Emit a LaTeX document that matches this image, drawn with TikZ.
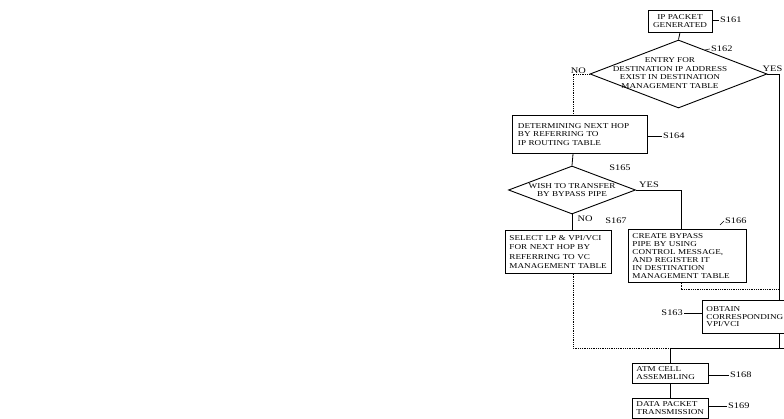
\documentclass[tikz,border=0pt]{standalone}
\usepackage{fontspec}
\setmainfont{Liberation Serif}
\newfontfamily\scanfont[FakeStretch=1.22]{Liberation Serif}
\usetikzlibrary{shapes.geometric,calc}
\begin{document}
\begin{tikzpicture}[x=1pt,y=-1pt,
  every node/.style={font=\scanfont\fontsize{7.5}{8.4}\selectfont},
  box/.style={draw, line width=0.9pt, inner ysep=1.5pt, inner xsep=4pt, anchor=north west, align=left},
  dia/.style={draw, diamond, line width=0.9pt, inner sep=0pt},
  txt/.style={align=center, inner sep=0pt},
  lab/.style={inner sep=1pt, font=\scanfont\fontsize{8.5}{9}\selectfont},
  conn/.style={line width=0.8pt},
  faint/.style={line width=0.8pt, densely dotted},
  lead/.style={line width=0.5pt}]
\useasboundingbox (0,0) rectangle (784,419);
% S161
\node[draw, line width=0.9pt, align=center, minimum width=64pt, minimum height=22pt, inner sep=1pt] (s161) at (680,21) {IP PACKET\\GENERATED};
\node[lab, anchor=west] (l161) at (719,20) {S161};
\draw[lead] (l161.west) -- (s161.east |- l161.west);
% S162
\node[dia, minimum width=177pt, minimum height=68pt] (s162) at (678.5,74) {};
\node[txt] (t162) at (670,73) {ENTRY FOR\\DESTINATION IP ADDRESS\\EXIST IN DESTINATION\\MANAGEMENT TABLE};
\node[lab, anchor=south west] (l162) at (710,53) {S162};
\draw[lead] (l162.west) -- ($(s162.north)!0.3!(s162.east)$);
\node[lab, anchor=east] (no1) at (587,71) {NO};
\node[lab, anchor=south east] (yes1) at (783.5,73) {YES};
% S164
\node[box, minimum width=135pt, minimum height=38pt, text width=124pt] (s164) at (512,115) {DETERMINING NEXT HOP\\BY REFERRING TO\\IP ROUTING TABLE};
\node[lab, anchor=west] (l164) at (662,136) {S164};
\draw[lead] (l164.west) -- (s164.east |- l164.west);
% S165
\node[dia, minimum width=127pt, minimum height=48pt] (s165) at (572,190) {};
\node[txt] (t165) at (572,190) {WISH TO TRANSFER\\BY BYPASS PIPE};
\node[lab] (l165) at (620,168) {S165};
\node[lab, anchor=south west] (yes2) at (638,189) {YES};
\node[lab] (no2) at (585,219) {NO};
% S167
\node[box, minimum width=106pt, minimum height=43pt, inner xsep=3pt, text width=98pt, font=\scanfont\fontsize{7.5}{9.2}\selectfont] (s167) at (505,230) {SELECT LP \& VPI/VCI\\FOR NEXT HOP BY\\REFERRING TO VC\\MANAGEMENT TABLE};
\node[lab] (l167) at (616,221) {S167};
% S166
\node[box, minimum width=118pt, minimum height=53pt, inner xsep=3pt, text width=110pt, font=\scanfont\fontsize{7.5}{8}\selectfont] (s166) at (628,229) {CREATE BYPASS\\PIPE BY USING\\CONTROL MESSAGE,\\AND REGISTER IT\\IN DESTINATION\\MANAGEMENT TABLE};
\node[lab, anchor=west] (l166) at (724,221) {S166};
\draw[lead] (l166.west) -- ++(-4,4);
% S163
\node[box, minimum width=100pt, minimum height=33pt, inner xsep=3pt, text width=92pt, font=\scanfont\fontsize{7.5}{7.6}\selectfont] (s163) at (702,300) {OBTAIN\\CORRESPONDING\\VPI/VCI};
\node[lab, anchor=east] (l163) at (684,313) {S163};
\draw[lead] (l163.east) -- (s163.west |- l163.east);
% S168, S169
\node[box, minimum width=76pt, minimum height=20pt, inner xsep=3pt, text width=68pt, font=\scanfont\fontsize{7.5}{8}\selectfont] (s168) at (632,363) {ATM CELL\\ASSEMBLING};
\node[lab, anchor=west] (l168) at (729,375) {S168};
\draw[lead] (l168.west) -- (s168.east |- l168.west);
\node[box, minimum width=76pt, minimum height=20pt, inner xsep=3pt, text width=68pt, font=\scanfont\fontsize{7.5}{8}\selectfont] (s169) at (632,398) {DATA PACKET\\TRANSMISSION};
\node[lab, anchor=west] (l169) at (727,406) {S169};
\draw[lead] (l169.west) -- (s169.east |- l169.west);
% junction coordinates
\coordinate (rtop) at (779,74);
\coordinate (rj) at (779,289);
\coordinate (ml) at (573,348);
\coordinate (mr) at (784,348);
\coordinate (yc) at (681,190);
% connectors
\draw[conn] (s161.south) -- (s162.north);
\draw[faint] (s162.west) -- (s162.west -| ml) -- (ml |- s164.north);
\draw[conn] (ml |- s164.south) -- (s165.north);
\draw[conn] (s165.east) -- (yc) -- (yc |- s166.north);
\draw[conn] (s165.south) -- (s165.south |- s167.north);
\draw[conn] (s162.east) -- (rtop) -- (rj) -- (rj |- s163.north);
\draw[faint] (yc |- s166.south) -- (yc |- rj) -- (rj);
\draw[faint] (ml |- s167.south) -- (ml) -- (s168.north |- ml);
\draw[conn] (s168.north |- ml) -- (mr);
\draw[conn] (rj |- s163.south) -- (rj |- mr);
\draw[conn] (s168.north |- ml) -- (s168.north);
\draw[conn] (s168.south) -- (s169.north);
\end{tikzpicture}
\end{document}
